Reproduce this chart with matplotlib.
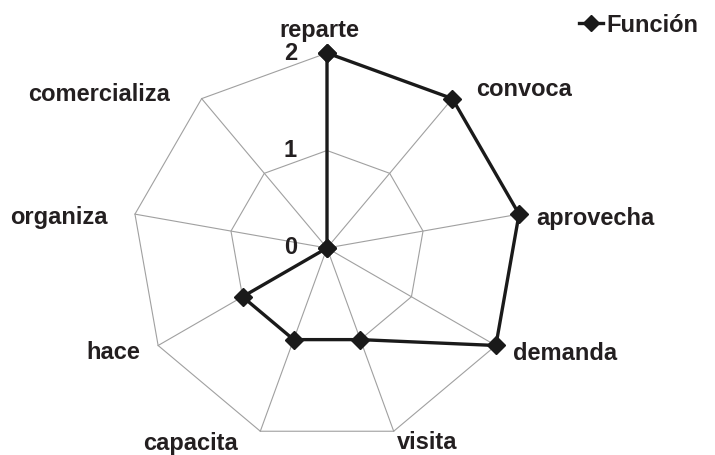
import numpy as np
from matplotlib import pyplot as plt
from matplotlib.lines import Line2D

# datos del gráfico radial
categorias = ['reparte', 'convoca', 'aprovecha', 'demanda', 'visita',
              'capacita', 'hace', 'organiza', 'comercializa']
funcion = [2, 2, 2, 2, 1, 1, 1, 0, 0]
niveles = [0, 1, 2]
serie = 'Función'

plt.rcParams['font.family'] = ['Liberation Sans', 'DejaVu Sans']
plt.rcParams['font.weight'] = 'bold'
FS = 17

W, H = 715, 455
cx, cy = 327, 248   # centro en pixeles (desde arriba)
esc = 97.5          # pixeles por unidad

fig = plt.figure(figsize=(W/100, H/100), dpi=100)
ax = fig.add_axes([0, 0, 1, 1])
ax.set_xlim(-cx/esc, (W-cx)/esc)
ax.set_ylim(-(H-cy)/esc, cy/esc)
ax.set_aspect('equal')
ax.axis('off')

K = len(categorias)
ang = np.arange(K)*2*np.pi/K
sx = np.sin(ang)
sy = np.cos(ang)

rmax = max(niveles)
# anillos poligonales
for r in niveles[1:]:
    ax.plot(np.append(sx, sx[0])*r, np.append(sy, sy[0])*r, color='#a0a0a0', lw=0.8, zorder=1)
# radios
for i in range(K):
    ax.plot([0, sx[i]*rmax], [0, sy[i]*rmax], color='#a0a0a0', lw=0.8, zorder=1)

v = np.array(funcion, dtype=float)
ax.plot(np.append(sx*v, sx[0]*v[0]), np.append(sy*v, sy[0]*v[0]), color='#1a1a1a',
        lw=2.4, marker='D', ms=9, zorder=3)

# etiquetas de ejes (desplazamiento en pixeles respecto al vértice)
desp = [(-8, -22, 'center'), (24, -9, 'left'), (17, 4, 'left'), (17, 8, 'left'),
        (33, 11, 'center'), (-70, 12, 'center'), (-18, 7, 'right'),
        (-27, 3, 'right'), (-32, -4, 'right')]
for i, c in enumerate(categorias):
    dx, dy, ha = desp[i]
    ax.annotate(c, xy=(sx[i]*rmax, sy[i]*rmax), xytext=(dx, -dy), textcoords='offset pixels',
                ha=ha, va='center', fontsize=FS, fontweight='bold', color='#231f20')

# valores de la escala
for r in niveles:
    ax.annotate(str(r), xy=(0, r), xytext=(-30, 0), textcoords='offset pixels',
                ha='right', va='center', fontsize=FS, fontweight='bold', color='#231f20')

h = Line2D([], [], color='#1a1a1a', lw=2.4, marker='D', ms=8)
fig.legend([h], [serie], loc='center left', bbox_to_anchor=(579/W, 1-25/H), frameon=False,
           handlelength=1.0, handletextpad=0.15, borderpad=0, borderaxespad=0,
           prop={'size': FS, 'weight': 'bold'}, labelcolor='#231f20')

fig.savefig('out.png', dpi=100)
